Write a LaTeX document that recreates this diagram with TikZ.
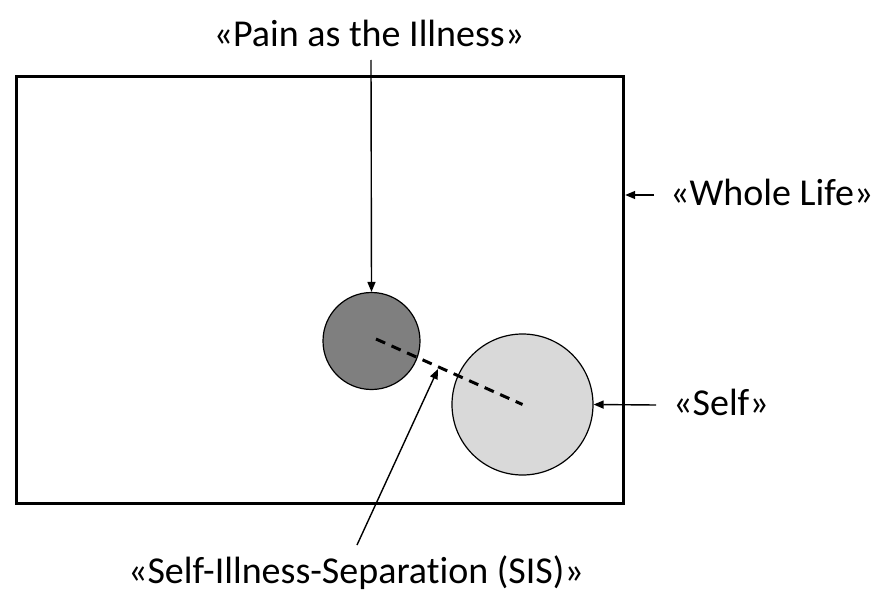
\documentclass[tikz,border=0pt]{standalone}
\usepackage{fontspec}
\setmainfont[Ligatures=NoCommon]{Carlito}
\usetikzlibrary{arrows.meta}
\definecolor{darkfill}{HTML}{7F7F7F}
\definecolor{lightfill}{HTML}{D9D9D9}
\begin{document}
\begin{tikzpicture}[x=1pt,y=-1pt,
  lbl/.style={font=\fontsize{38}{44}\selectfont, inner sep=0pt},
  ptr/.style={line width=1.4pt, -{Triangle[length=10pt,width=8pt]}},
  circ/.style={circle, draw=black, line width=1.2pt, inner sep=0pt}]
\useasboundingbox (0,0) rectangle (879,594);
\node[draw=black, line width=3.2pt, minimum width=607pt, minimum height=427pt, inner sep=0pt, anchor=north west] (life) at (15,75) {};
\node[circ, fill=darkfill, minimum size=97pt] (ill) at (371.5,341) {};
\node[circ, fill=lightfill, minimum size=141pt] (self) at (522.5,404.5) {};
\draw[line width=3pt, dash pattern=on 10pt off 7pt] (376,339) -- (self.center);
\node[lbl, anchor=base] (tpain) at (369,47) {«Pain as the Illness»};
\node[lbl, anchor=base west] (twhole) at (670,205) {«Whole Life»};
\node[lbl, anchor=base west] (tself) at (673,415) {«Self»};
\node[lbl, anchor=base] (tsis) at (356,583) {«Self-Illness-Separation (SIS)»};
\coordinate (pt) at (371,60);
\coordinate (wt) at (654,195);
\coordinate (st) at (656,405);
\coordinate (sist) at (357,545);
\coordinate (sish) at (438,369);
\draw[ptr] (pt) -- (ill.north);
\draw[ptr] (wt) -- (life.east |- wt);
\draw[ptr] (st) -- (self.east);
\draw[ptr] (sist) -- (sish);
\end{tikzpicture}
\end{document}
